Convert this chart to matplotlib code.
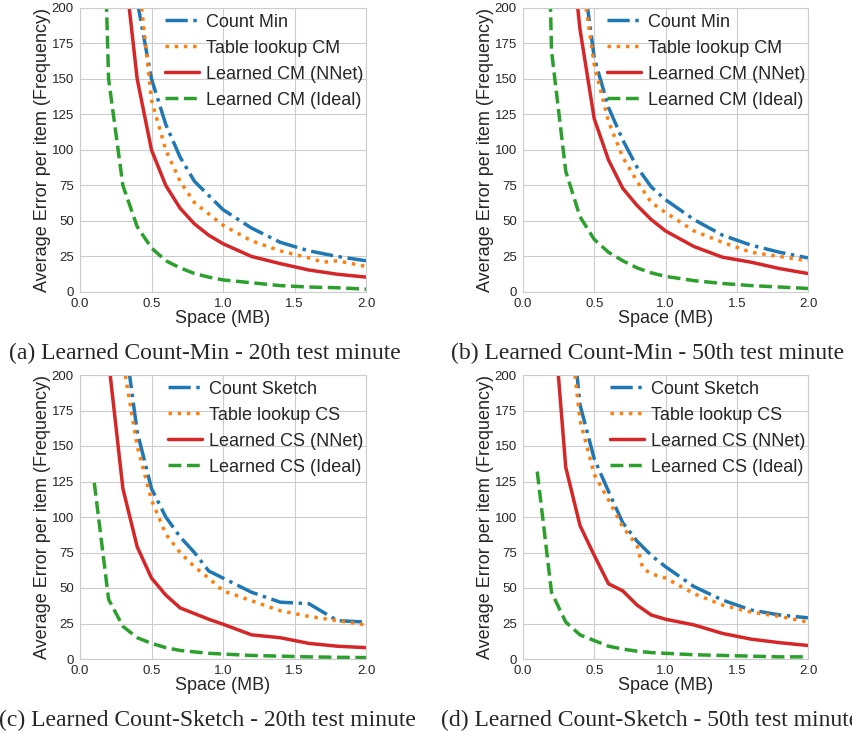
import numpy as np
import matplotlib
matplotlib.use("Agg")
import matplotlib.pyplot as plt
import seaborn as sns

sns.set_style("whitegrid")
plt.rcParams['font.family'] = ['Liberation Sans', 'DejaVu Sans']

# ---------------- data ----------------
x_all = [0.1, 0.2, 0.3, 0.4, 0.5, 0.6, 0.7, 0.8, 0.9, 1.0, 1.2, 1.4, 1.6, 1.8, 2.0]

# (a) Count-Min, 20th minute
a_x_table = [0.1, 0.2, 0.3, 0.4, 0.5, 0.6, 0.7, 0.8, 0.9, 1.0, 1.2, 1.4, 1.6, 1.7, 1.8, 2.0]
a_cm     = [900, 500, 300, 205, 150, 118, 95, 78, 68, 58, 45, 35, 29, 25, 22]
a_table  = [900, 500, 300, 230, 135, 100, 78, 63, 55, 47, 36, 29, 24, 21, 22, 18]
a_nnet   = [700, 400, 240, 150, 100, 75, 59, 48, 40, 34, 25, 20, 15.5, 12.5, 10.5]
a_ideal  = [500, 150, 75, 46, 31, 22, 17, 13, 10.5, 8.5, 6.5, 4.5, 3.5, 3, 2]

# (b) Count-Min, 50th minute
b_cm     = [900, 600, 350, 240, 165, 130, 107, 88, 74, 65, 51, 40, 33, 28, 24]
b_table  = [900, 600, 350, 230, 160, 120, 95, 78, 63, 56, 43, 35, 28, 25, 22]
b_nnet   = [800, 450, 280, 185, 122, 93, 73, 61, 51, 43, 32, 24.5, 21, 16.5, 13]
b_ideal  = [600, 170, 85, 53, 37, 28, 22, 17, 13.5, 11, 8, 6, 4.5, 3.5, 2.5]

# (c) Count-Sketch, 20th minute
c_cs     = [600, 400, 235, 160, 120, 100, 86, 75, 62, 57, 47, 40, 39, 27, 26]
c_table  = [600, 400, 210, 150, 112, 88, 75, 65, 57, 48, 41, 34, 30, 27, 24]
c_nnet   = [500, 210, 120, 79, 57, 45, 36, 32, 28, 24.5, 17, 15, 11, 9, 8]
c_ideal  = [124, 42, 23, 15, 11, 8, 6, 5, 4, 3.5, 2.5, 2, 1.5, 1.2, 1]

# (d) Count-Sketch, 50th minute
d_x_table = [0.1, 0.2, 0.3, 0.4, 0.5, 0.6, 0.7, 0.8, 0.84, 0.9, 1.0, 1.2, 1.4, 1.6, 1.8, 2.0]
d_cs     = [700, 450, 280, 179, 141, 118, 96, 83, 73, 65, 51, 41.5, 34.5, 31, 29]
d_table  = [700, 450, 260, 168, 130, 112, 93, 80, 64, 60, 57, 46, 38, 33, 30, 26]
d_nnet   = [500, 260, 135, 94, 73, 53, 48, 38, 31, 28, 24, 18, 14, 11.5, 9.5]
d_ideal  = [132, 47, 26, 17, 13, 9, 7, 5.5, 4.5, 4, 3, 2.5, 2, 1.5, 1.5]

cm_labels = ["Count Min", "Table lookup CM", "Learned CM (NNet)", "Learned CM (Ideal)"]
cs_labels = ["Count Sketch", "Table lookup CS", "Learned CS (NNet)", "Learned CS (Ideal)"]

x_ticks = [0.0, 0.5, 1.0, 1.5, 2.0]
y_ticks = [0, 25, 50, 75, 100, 125, 150, 175, 200]

captions = ["(a) Learned Count-Min - 20th test minute",
            "(b) Learned Count-Min - 50th test minute",
            "(c) Learned Count-Sketch - 20th test minute",
            "(d) Learned Count-Sketch - 50th test minute"]

panels = [
    ([x_all, a_x_table, x_all, x_all], [a_cm, a_table, a_nnet, a_ideal], cm_labels),
    ([x_all, x_all, x_all, x_all], [b_cm, b_table, b_nnet, b_ideal], cm_labels),
    ([x_all, x_all, x_all, x_all], [c_cs, c_table, c_nnet, c_ideal], cs_labels),
    ([x_all, d_x_table, x_all, x_all], [d_cs, d_table, d_nnet, d_ideal], cs_labels),
]

colors = ["#1f77b4", "#ff7f0e", "#d62728", "#2ca02c"]
styles = ["-.", ":", "-", "--"]

fig = plt.figure(figsize=(8.52, 7.31), dpi=100)
W, H = 852, 731
boxes = [(80, 8, 366, 292), (523, 8, 808, 292), (80, 375, 366, 659), (523, 375, 808, 659)]
cap_pos = [(205, 353), (648, 353), (207, 720), (650, 720)]

for i, (xs, ys, labels) in enumerate(panels):
    l, t, r, b = boxes[i]
    ax = fig.add_axes([l / W, 1 - b / H, (r - l) / W, (b - t) / H])
    for j in range(4):
        ax.plot(xs[j], ys[j], linestyle=styles[j], color=colors[j], lw=2.5, label=labels[j])
    ax.set_xlim(0, 2.0)
    ax.set_ylim(0, 200)
    ax.set_xticks(x_ticks)
    ax.set_yticks(y_ticks)
    ax.set_xticklabels([f"{v:.1f}" for v in x_ticks])
    ax.tick_params(labelsize=9.5, pad=1, colors="0.15")
    ax.set_xlabel("Space (MB)", fontsize=13, labelpad=0, color="0.15")
    ax.set_ylabel("Average Error per item (Frequency)", fontsize=13, labelpad=0.5, color="0.15")
    for s in ax.spines.values():
        s.set_color("0.8")
    leg = ax.legend(loc="upper right", bbox_to_anchor=(1.0, 1.0 - 3.0 / 284), fontsize=13,
                    frameon=False, labelspacing=0.5, handlelength=1.85, handletextpad=0.4,
                    borderaxespad=0.0, borderpad=0.15)
    cx, cy = cap_pos[i]
    fig.text(cx / W, 1 - cy / H, captions[i], ha="center", va="center",
             fontsize=17, family="Liberation Serif")

fig.savefig("out.png", dpi=100)
